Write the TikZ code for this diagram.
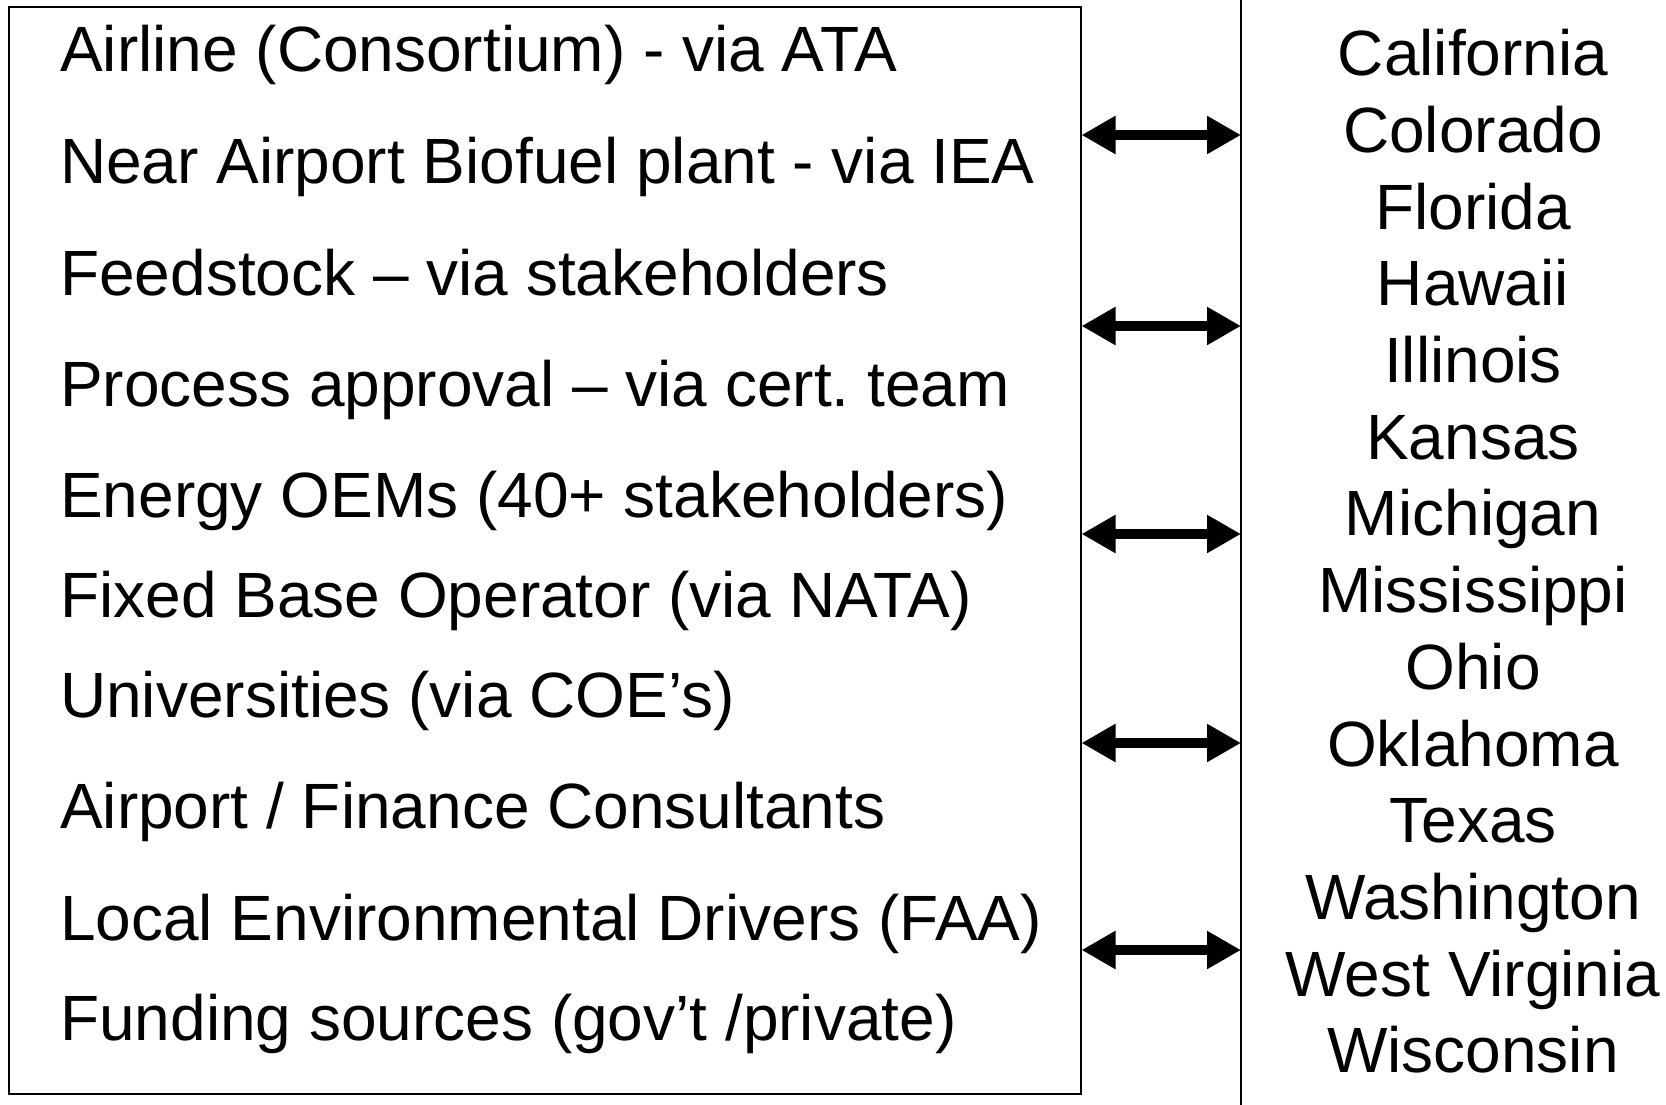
\documentclass[tikz,border=0pt]{standalone}
\usepackage{fontspec}
\setmainfont{Liberation Sans}
\usetikzlibrary{arrows.meta, positioning}
\frenchspacing

\tikzset{
  item/.style={anchor=base west, inner sep=0pt, font=\fontsize{64}{77}\selectfont},
  statename/.style={anchor=base, inner sep=0pt, font=\fontsize{64}{77}\selectfont},
  link/.style={{Triangle[length=34pt,width=36pt]}-{Triangle[length=34pt,width=36pt]}, line width=10pt},
}

\begin{document}
\begin{tikzpicture}[x=1pt, y=-1pt]
            \useasboundingbox (0,0) rectangle (1666,1105);
            \node[draw, line width=2pt, minimum width=1072pt, minimum height=1087pt, inner sep=0pt] (panel) at (544.5,550.5) {};
            \coordinate (divtop) at (1241,0);
            \coordinate (divbot) at (1241,1105);
            \draw[line width=2pt] (divtop) -- (divbot);

            \node[item] (airline) at (60,72) {Airline (Consortium) - via ATA};
            \node[item] (biofuel) at (60,184) {Near Airport Biofuel plant - via IEA};
            \node[item] (feed) at (60,295) {Feedstock – via stakeholders};
            \node[item] (approval) at (60,406) {Process approval – via cert. team};
            \node[item] (oems) at (60,517) {Energy OEMs (40+ stakeholders)};
            \node[item] (fbo) at (60,617) {Fixed Base Operator (via NATA)};
            \node[item] (univ) at (60,717) {Universities (via COE’s)};
            \node[item] (finance) at (60,828) {Airport / Finance Consultants};
            \node[item] (env) at (60,940) {Local Environmental Drivers (FAA)};
            \node[item] (funding) at (60,1040) {Funding sources (gov’t /private)};

            \foreach \st [count=\i] in {California, Colorado, Florida, Hawaii, Illinois, Kansas, Michigan,
                Mississippi, Ohio, Oklahoma, Texas, Washington, West Virginia, Wisconsin}
                \node[statename] (st\i) at (1473,{76.7*\i-1}) {\st};

            \foreach \y [count=\i] in {135,326,534,743,950} {
                \coordinate (al\i) at (panel.east |- 0,\y);
                \coordinate (ar\i) at (divtop |- 0,\y);
                \draw[link] (al\i) -- (ar\i);
            }
        \end{tikzpicture}
\end{document}
